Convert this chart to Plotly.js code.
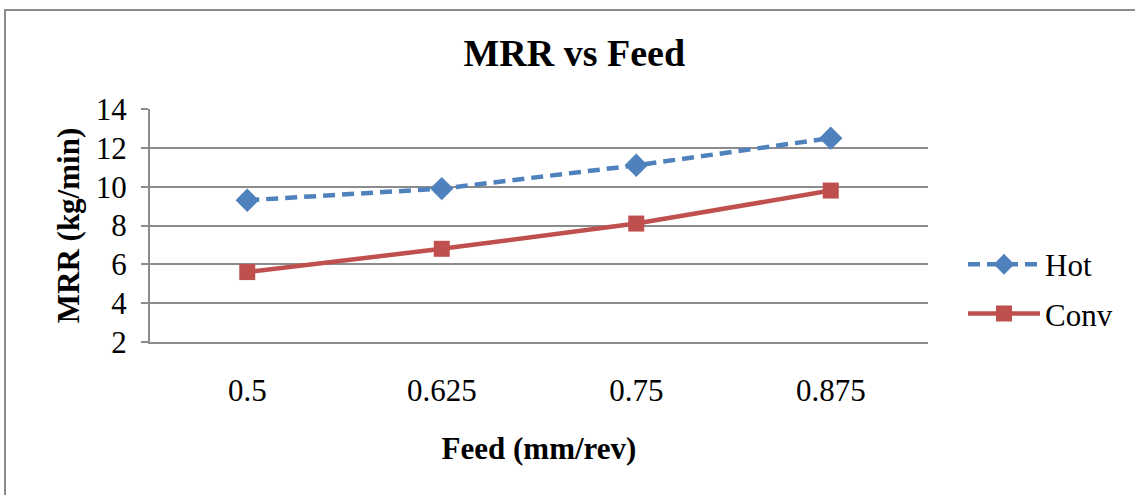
<!DOCTYPE html>
<html><head><meta charset="utf-8">
<script src="https://cdn.plot.ly/plotly-3.0.1.min.js"></script>
<style>
html,body{margin:0;padding:0;background:#fff;}
#frame{position:absolute;left:4px;top:9px;width:1140px;height:495px;border:2px solid #8c8c8c;box-sizing:border-box;}
#chart{position:absolute;left:0;top:0;width:1135px;height:495px;}
</style></head>
<body>
<div id="frame"></div>
<div id="chart"></div>
<script>
const feeds = ["0.5", "0.625", "0.75", "0.875"];
const hot = [9.3, 9.9, 11.1, 12.5];
const conv = [5.6, 6.8, 8.1, 9.8];
const yTicks = [2, 4, 6, 8, 10, 12, 14];

const font = "'Liberation Serif', 'Times New Roman', serif";
const traces = [
  {x: feeds, y: hot, name: "Hot", type: "scatter", mode: "lines+markers", legendgroup: "a",
   line: {color: "#4F81BD", width: 4.5, dash: "12px,7px"},
   marker: {symbol: "diamond", size: 18, color: "#4F81BD"}},
  {x: feeds, y: conv, name: "Conv", type: "scatter", mode: "lines+markers", legendgroup: "b",
   line: {color: "#C0504D", width: 4.5},
   marker: {symbol: "square", size: 16, color: "#C0504D"}}
];
const layout = {
  width: 1135, height: 495,
  paper_bgcolor: "rgba(0,0,0,0)", plot_bgcolor: "rgba(0,0,0,0)",
  margin: {l: 150, r: 207, t: 109, b: 153},
  font: {family: font, size: 31, color: "#000"},
  title: {text: "<b>MRR vs Feed</b>", x: 0.506, xref: "container", xanchor: "center", y: 0.893, yanchor: "middle",
          font: {family: font, size: 38, color: "#000"}},
  xaxis: {type: "category", range: [-0.5, 3.5], showgrid: false, showline: true, linecolor: "#8c8c8c", linewidth: 2,
          ticks: "", ticklabelstandoff: 20, tickfont: {family: font, size: 31},
          title: {text: "<b>Feed (mm/rev)</b>", standoff: 30, font: {family: font, size: 31}}},
  yaxis: {range: [2, 14], tickvals: yTicks, showgrid: true, gridcolor: "#8c8c8c", gridwidth: 2,
          showline: true, linecolor: "#8c8c8c", linewidth: 2, zeroline: false,
          ticks: "outside", ticklen: 7, tickcolor: "#8c8c8c", tickwidth: 2, ticklabelstandoff: 8,
          tickfont: {family: font, size: 31},
          title: {text: "<b>MRR (kg/min)</b>", standoff: 7, font: {family: font, size: 31}}},
  legend: {x: 1.045, xanchor: "left", y: 0.227, yanchor: "middle", font: {family: font, size: 31},
           tracegroupgap: 6, itemwidth: 72, bgcolor: "rgba(0,0,0,0)"},
  showlegend: true
};
Plotly.newPlot("chart", traces, layout, {displayModeBar: false, staticPlot: true});
</script>
</body></html>
